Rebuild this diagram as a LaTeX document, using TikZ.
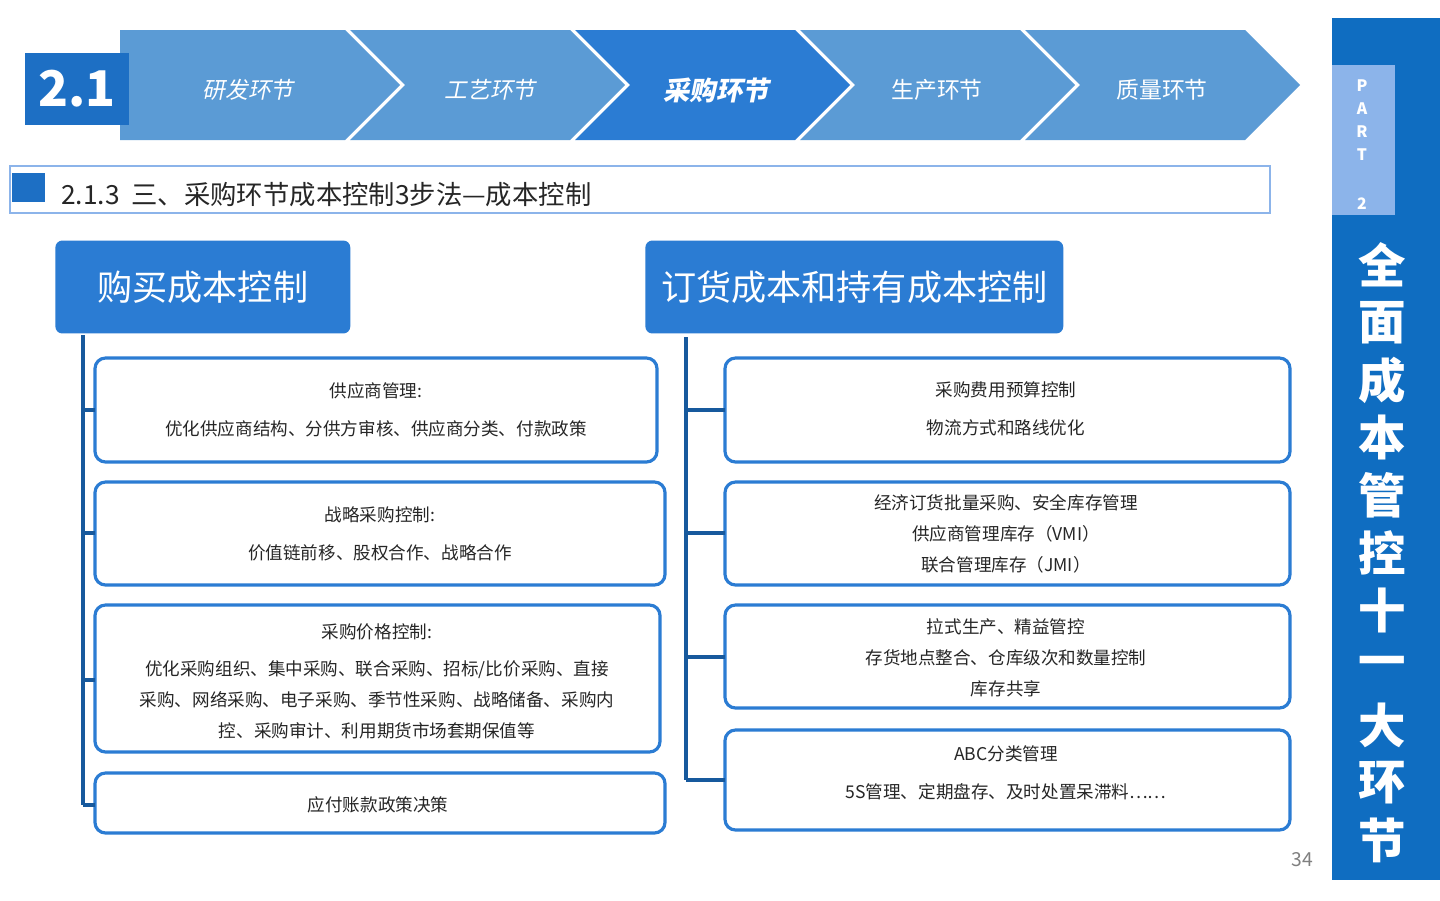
\documentclass[tikz,border=0pt]{standalone}
\usepackage{fontspec}
\setmainfont{Noto Sans CJK SC}
\newfontfamily\cjkslant[FakeSlant=0.2]{Noto Sans CJK SC}
\usetikzlibrary{positioning}
\definecolor{chevblue}{HTML}{5B9BD5}
\definecolor{hotblue}{HTML}{2B7CD3}
\definecolor{deepblue}{HTML}{1D6FC4}
\definecolor{barblue}{HTML}{0F6DC1}
\definecolor{paleblue}{HTML}{8CB4EA}
\tikzset{
  chev/.style = {fill = chevblue, draw = none},
  headbox/.style = {fill = hotblue, rounded corners = 4pt, text = white, font = \fontsize{20}{24}\selectfont, anchor = west},
  itembox/.style = {draw = hotblue, line width = 1.8pt, rounded corners = 6pt, fill = white},
  itemtext/.style = {font = \fontsize{10}{17.5}\selectfont, align = center, text = black!85},
  trunk/.style = {draw = deepblue!80!black, line width = 1.8pt}
}
\begin{document}
\begin{tikzpicture}[x=0.02cm, y=-0.02cm]
\useasboundingbox (0,0) rectangle (1440,900);
\fill[white] (0,0) rectangle (1440,900);
% chevrons
\fill[chev] (120,30) -- (345,30) -- (400,85) -- (345,140) -- (120,140) -- cycle;
\foreach \x/\c in {350/chevblue, 575/hotblue, 800/chevblue, 1025/chevblue}
  \fill[fill = \c] (\x,30) -- (\x+220,30) -- (\x+275,85) -- (\x+220,140) -- (\x,140) -- (\x+55,85) -- cycle;
\node[fill = deepblue, minimum width = 2.1cm, minimum height = 1.44cm, text = white,
  font = \fontsize{28}{30}\selectfont\bfseries] (sec) at (77,89) {2.1};
\node[text = white, font = \fontsize{13}{15}\cjkslant] (c1) at (248,90) {研发环节};
\node[text = white, font = \fontsize{13}{15}\cjkslant] (c2) at (490,90) {工艺环节};
\node[text = white, font = \fontsize{15}{17}\cjkslant\bfseries] (c3) at (716,90) {采购环节};
\node[text = white, font = \fontsize{13}{15}\selectfont] (c4) at (937,90) {生产环节};
\node[text = white, font = \fontsize{13}{15}\selectfont] (c5) at (1162,90) {质量环节};
% section title
\draw[draw = paleblue, line width = 1pt] (10,166) rectangle (1270,213);
\fill[deepblue] (12,173) rectangle (45,202);
\node[anchor = west, font = \fontsize{15}{17}\selectfont, text = black!85] (title) at (55,195)
  {2.1.3\ \ 三、采购环节成本控制3步法—成本控制};
% headings
\node[headbox, minimum width = 5.9cm, minimum height = 1.86cm] (buy) at (55,287) {购买成本控制};
\node[headbox, minimum width = 8.36cm, minimum height = 1.86cm] (order) at (645,287) {订货成本和持有成本控制};
% left items
\draw[itembox] (95,358) rectangle (657,462);
\node[itemtext] (l1) at (376,410) {供应商管理:\\[4pt]优化供应商结构、分供方审核、供应商分类、付款政策};
\draw[itembox] (95,482) rectangle (665,585);
\node[itemtext] (l2) at (380,534) {战略采购控制:\\[4pt]价值链前移、股权合作、战略合作};
\draw[itembox] (95,605) rectangle (660,752);
\node[itemtext] (l3) at (377,681) {采购价格控制:\\[4pt]优化采购组织、集中采购、联合采购、招标/比价采购、直接\\采购、网络采购、电子采购、季节性采购、战略储备、采购内\\控、采购审计、利用期货市场套期保值等};
\draw[itembox] (95,773) rectangle (665,833);
\node[itemtext] (l4) at (378,805) {应付账款政策决策};
% right items
\draw[itembox] (725,358) rectangle (1290,462);
\node[itemtext] (r1) at (1006,409) {采购费用预算控制\\[4pt]物流方式和路线优化};
\draw[itembox] (725,482) rectangle (1290,585);
\node[itemtext] (r2) at (1006,534) {经济订货批量采购、安全库存管理\\供应商管理库存（VMI）\\联合管理库存（JMI）};
\draw[itembox] (725,605) rectangle (1290,708);
\node[itemtext] (r3) at (1006,658) {拉式生产、精益管控\\存货地点整合、仓库级次和数量控制\\库存共享};
\draw[itembox] (725,730) rectangle (1290,830);
\node[itemtext] (r4) at (1006,773) {ABC分类管理\\[4pt]5S管理、定期盘存、及时处置呆滞料……};
% trunks
\coordinate (ltop) at (83,335);
\coordinate (lend) at (83,805);
\draw[trunk] (ltop) -- (lend);
\foreach \y in {410,533,680,805}
  \draw[trunk] (83,\y) -- (95,\y);
\coordinate (rtop) at (686,337);
\coordinate (rend) at (686,780);
\draw[trunk] (rtop) -- (rend);
\foreach \y in {410,533,657,780}
  \draw[trunk] (686,\y) -- (725,\y);
% side bar
\fill[barblue] (1332,18) rectangle (1440,880);
\fill[paleblue] (1332,65) rectangle (1395,215);
\foreach \ch/\y in {P/86,A/109,R/132,T/155,2/204}
  \node[text = white, font = \fontsize{9}{10}\selectfont\bfseries] at (1362,\y) {\ch};
\foreach \ch [count = \i from 0] in {全,面,成,本,管,控,十,一,大,环,节}
  \node[text = white, font = \fontsize{27}{28}\selectfont\bfseries] at (1382,265+\i*57.5) {\ch};
\node[text = black!50, font = \fontsize{11}{12}\selectfont] (page) at (1302,860) {34};
\end{tikzpicture}
\end{document}
